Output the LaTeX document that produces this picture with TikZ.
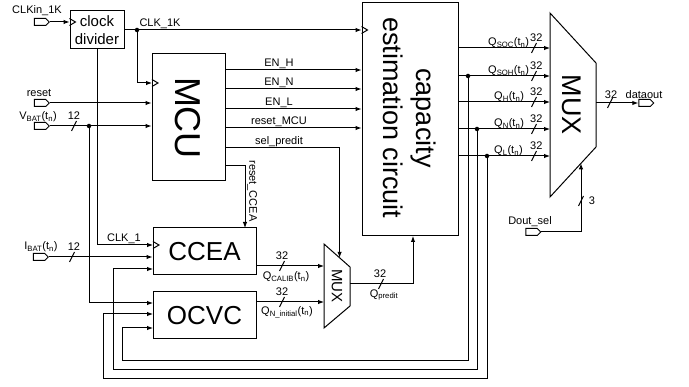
\documentclass[tikz,border=0pt]{standalone}
\usepackage{fontspec}
\setmainfont{Liberation Sans}
\usetikzlibrary{arrows.meta,shapes.symbols,calc}
\tikzset{
  wire/.style={line width=1pt},
  arr/.style={wire,-{Latex[length=6pt,width=4.5pt]}},
  box/.style={draw,line width=1pt,inner sep=0pt},
  port/.style={draw,line width=1pt,signal,signal to=east,minimum width=15pt,minimum height=7pt,inner sep=0pt},
  lbl/.style={font=\fontsize{11}{12}\selectfont,inner sep=0pt},
  dot/.style={circle,fill,inner sep=0pt,minimum size=4.5pt},
}
\newcommand\clkmark[1]{\draw[wire] ($(#1)+(0,-3.5)$) -- ++(6,3.5) -- ++(-6,3.5);}
\newcommand\busmark[1]{\draw[wire] ($(#1)+(-2.5,5)$) -- ($(#1)+(2.5,-5)$);}
\begin{document}
\begin{tikzpicture}[x=1pt,y=-1pt]
\useasboundingbox[fill=white] (0,0) rectangle (689,387);

% ---- boxes
\node[box,minimum width=54pt,minimum height=38pt,align=center,font=\fontsize{15}{18}\selectfont] (div) at (97,30) {clock\\divider};
\node[box,minimum width=73pt,minimum height=127pt] (mcu) at (188.5,117.5) {};
\node[rotate=-90,font=\fontsize{36}{36}\selectfont,inner sep=0pt] (mcut) at (188,118) {MCU};
\node[box,minimum width=96pt,minimum height=233pt] (cap) at (410,119.5) {};
\node[rotate=-90,align=center,font=\fontsize{27}{33}\selectfont,inner sep=0pt] (capt) at (410,118) {capacity\\estimation circuit};
\node[box,minimum width=103pt,minimum height=47pt,font=\fontsize{26}{26}\selectfont] (ccea) at (204.5,251.5) {CCEA};
\node[box,minimum width=103pt,minimum height=47pt,font=\fontsize{26}{26}\selectfont] (ocvc) at (204.5,315.5) {OCVC};

% small mux
\coordinate (sm1) at (324,244); \coordinate (sm2) at (350,267);
\coordinate (sm3) at (350,306); \coordinate (sm4) at (324,328);
\draw[wire] (sm1) -- (sm2) -- (sm3) -- (sm4) -- cycle;
\node[rotate=-90,font=\fontsize{15}{15}\selectfont,inner sep=0pt] (smuxt) at (337,286) {MUX};
% big mux
\coordinate (bm1) at (550,13); \coordinate (bm2) at (596,63);
\coordinate (bm3) at (596,147); \coordinate (bm4) at (550,197);
\draw[wire] (bm1) -- (bm2) -- (bm3) -- (bm4) -- cycle;
\node[rotate=-90,font=\fontsize{27}{27}\selectfont,inner sep=0pt] (bmuxt) at (572,105) {MUX};

% ---- ports
\node[port] (clkin) at (40,22) {};
\node[port] (rst) at (40,103) {};
\node[port] (vbat) at (40,126) {};
\node[port] (ibat) at (39,257) {};
\node[port] (dout) at (644.5,103) {};
\node[port] (dsel) at (531.5,232) {};

% ---- pin coordinates
\coordinate (j1) at (137,30);
\coordinate (mclk) at (152,83);
\coordinate (vdot) at (89,126);
\coordinate (cclk) at (153,245);
\coordinate (cin3) at (153,269);
\coordinate (oin1) at (153,303);
\coordinate (oin2) at (153,314);
\coordinate (oin3) at (153,328);
\coordinate (mo1) at (225,70);
\coordinate (mo2) at (225,89);
\coordinate (mo3) at (225,109);
\coordinate (mo4) at (225,128);
\coordinate (mo5) at (225,148);
\coordinate (mo6) at (225,166);
\coordinate (rc) at (245,228);
\coordinate (selend) at ($(sm1)!0.6!(sm2)$);
\coordinate (cout) at (256,266);
\coordinate (oout) at (256,302);
\coordinate (smo) at (350,284);
\coordinate (capin) at (413,236);
\coordinate (q1) at (458,48);
\coordinate (q2) at (458,76);
\coordinate (q3) at (458,102);
\coordinate (q4) at (458,129);
\coordinate (q5) at (458,156);
\coordinate (d2) at (468,76);
\coordinate (d4) at (477,129);
\coordinate (d5) at (487,156);
\coordinate (l1) at (122,361);
\coordinate (l2) at (113,370);
\coordinate (l3) at (103,379);
\coordinate (bmo) at (596,103);
\coordinate (dselend) at ($(bm3)!0.326!(bm4)$);

% ---- wires
\draw[arr] (clkin.east) -- (div.west |- clkin.east);
\clkmark{div.west |- clkin.east}
\draw[arr] (div.east) -- (cap.west |- div.east);
\clkmark{cap.west |- div.east}
\draw[arr] (j1) |- (mclk);
\clkmark{mclk}
\node[dot] at (j1) {};
\draw[arr] (rst.east) -- (mcu.west |- rst.east);
\draw[arr] (vbat.east) -- (mcu.west |- vbat.east);
\node[dot] at (vdot) {};
\draw[arr] (vdot) |- (oin1);
\draw[arr] (div.south) |- (cclk);
\clkmark{cclk}
\draw[arr] (ibat.east) -- (ccea.west |- ibat.east);

\draw[arr] (mo1) -- (cap.west |- mo1);
\draw[arr] (mo2) -- (cap.west |- mo2);
\draw[arr] (mo3) -- (cap.west |- mo3);
\draw[arr] (mo4) -- (cap.west |- mo4);
\draw[arr] (mo5) -| (selend);
\draw[arr] (mo6) -| (rc);

\draw[arr] (cout) -- (cout -| sm1);
\draw[arr] (oout) -- (oout -| sm1);
\draw[arr] (smo) -| (capin);

\draw[arr] (q1) -- (q1 -| bm1);
\draw[arr] (q2) -- (q2 -| bm1);
\draw[arr] (q3) -- (q3 -| bm1);
\draw[arr] (q4) -- (q4 -| bm1);
\draw[arr] (q5) -- (q5 -| bm1);
\node[dot] at (d2) {};
\node[dot] at (d4) {};
\node[dot] at (d5) {};
\draw[arr] (d2) |- (l1) |- (oin3);
\draw[arr] (d4) |- (l2) |- (cin3);
\draw[arr] (d5) |- (l3) |- (oin2);

\draw[arr] (bmo) -- (dout.west);
\draw[arr] (dsel.east) -| (dselend);

% ---- bus marks
\busmark{74,126}
\busmark{72,257}
\busmark{282,266}
\busmark{282,302}
\busmark{381,284}
\busmark{534,48}
\busmark{534,76}
\busmark{534,102}
\busmark{534,129}
\busmark{534,156}
\busmark{610,103}
\busmark{581,201}

% ---- labels
\node[lbl] at (37,11) {CLKin\_1K};
\node[lbl] at (160,24) {CLK\_1K};
\node[lbl] at (39,93) {reset};
\node[lbl] at (38,117) {V\textsubscript{BAT}(t\textsubscript{n})};
\node[lbl] at (74,116) {12};
\node[lbl] at (41,247) {I\textsubscript{BAT}(t\textsubscript{n})};
\node[lbl] at (74,247) {12};
\node[lbl] at (124,239) {CLK\_1};
\node[lbl,anchor=base] at (279,67) {EN\_H};
\node[lbl,anchor=base] at (279,86) {EN\_N};
\node[lbl,anchor=base] at (279,106) {EN\_L};
\node[lbl,anchor=base] at (279,125) {reset\_MCU};
\node[lbl,anchor=base] at (279,145) {sel\_predit};
\node[lbl,rotate=-90] at (252,191) {reset\_CCEA};
\node[lbl] at (282,256) {32};
\node[lbl] at (286,277) {Q\textsubscript{CALIB}(t\textsubscript{n})};
\node[lbl] at (282,292) {32};
\node[lbl] at (287,312) {Q\textsubscript{N\_initial}(t\textsubscript{n})};
\node[lbl] at (380,274) {32};
\node[lbl] at (384,295) {Q\textsubscript{predit}};
\node[lbl,anchor=base west] at (488,46) {Q\textsubscript{SOC}(t\textsubscript{n})};
\node[lbl,anchor=base west] at (488,74) {Q\textsubscript{SOH}(t\textsubscript{n})};
\node[lbl,anchor=base west] at (494,100) {Q\textsubscript{H}(t\textsubscript{n})};
\node[lbl,anchor=base west] at (494,127) {Q\textsubscript{N}(t\textsubscript{n})};
\node[lbl,anchor=base west] at (494,154) {Q\textsubscript{L}(t\textsubscript{n})};
\node[lbl,anchor=base west] at (530,42) {32};
\node[lbl,anchor=base west] at (530,70) {32};
\node[lbl,anchor=base west] at (530,96) {32};
\node[lbl,anchor=base west] at (530,123) {32};
\node[lbl,anchor=base west] at (530,150) {32};
\node[lbl] at (611,95) {32};
\node[lbl] at (644,95) {dataout};
\node[lbl] at (530,222) {Dout\_sel};
\node[lbl] at (592,201) {3};
\end{tikzpicture}
\end{document}
